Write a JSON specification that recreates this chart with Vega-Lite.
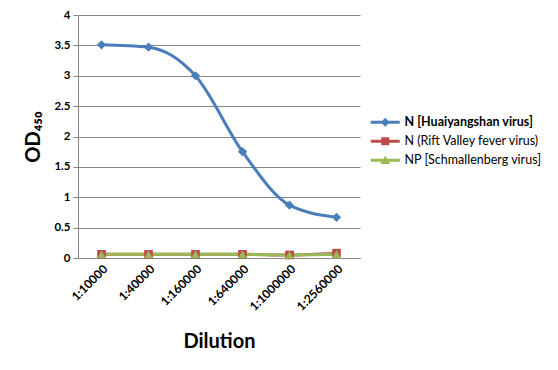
{
  "$schema": "https://vega.github.io/schema/vega-lite/v6.json",
  "width": 282,
  "height": 243,
  "autosize": "none",
  "padding": {"left": 78, "top": 15, "right": 198, "bottom": 112},
  "background": "white",
  "config": {
    "font": "Lato",
    "view": {"stroke": null},
    "axis": {"labelFont": "Lato", "titleFont": "Lato", "labelColor": "#000", "titleColor": "#000", "domainColor": "#868686", "gridColor": "#868686", "tickColor": "#868686"}
  },
  "data": {
    "values": [
      {"dilution": "1:10000", "series": "N [Huaiyangshan virus]", "od": 3.51},
      {"dilution": "1:40000", "series": "N [Huaiyangshan virus]", "od": 3.47},
      {"dilution": "1:160000", "series": "N [Huaiyangshan virus]", "od": 3.0},
      {"dilution": "1:640000", "series": "N [Huaiyangshan virus]", "od": 1.75},
      {"dilution": "1:1000000", "series": "N [Huaiyangshan virus]", "od": 0.87},
      {"dilution": "1:2560000", "series": "N [Huaiyangshan virus]", "od": 0.67},
      {"dilution": "1:10000", "series": "N (Rift Valley fever virus)", "od": 0.06},
      {"dilution": "1:40000", "series": "N (Rift Valley fever virus)", "od": 0.06},
      {"dilution": "1:160000", "series": "N (Rift Valley fever virus)", "od": 0.06},
      {"dilution": "1:640000", "series": "N (Rift Valley fever virus)", "od": 0.06},
      {"dilution": "1:1000000", "series": "N (Rift Valley fever virus)", "od": 0.05},
      {"dilution": "1:2560000", "series": "N (Rift Valley fever virus)", "od": 0.08},
      {"dilution": "1:10000", "series": "NP [Schmallenberg virus]", "od": 0.06},
      {"dilution": "1:40000", "series": "NP [Schmallenberg virus]", "od": 0.06},
      {"dilution": "1:160000", "series": "NP [Schmallenberg virus]", "od": 0.06},
      {"dilution": "1:640000", "series": "NP [Schmallenberg virus]", "od": 0.06},
      {"dilution": "1:1000000", "series": "NP [Schmallenberg virus]", "od": 0.05},
      {"dilution": "1:2560000", "series": "NP [Schmallenberg virus]", "od": 0.06}
    ]
  },
  "encoding": {
    "x": {
      "field": "dilution", "type": "ordinal", "sort": null,
      "scale": {"type": "point", "padding": 0.5},
      "axis": {"title": "Dilution", "titleFontSize": 20, "titleFontWeight": "bold", "titlePadding": 19,
               "labelAngle": -45, "labelFontSize": 12, "labelFontWeight": "bold", "ticks": false, "domainWidth": 1, "labelPadding": 5}
    },
    "y": {
      "field": "od", "type": "quantitative",
      "scale": {"domain": [0, 4], "nice": false},
      "axis": {"title": "OD₄₅₀", "titleFontSize": 20, "titleFontWeight": "bold", "values": [0, 0.5, 1, 1.5, 2, 2.5, 3, 3.5, 4], "format": "~g",
               "labelFontSize": 11.5, "labelFontWeight": "bold", "tickSize": 5, "labelPadding": 3, "grid": true,
               "titleX": -35, "titleY": 121.5, "titleAlign": "center"}
    },
    "color": {
      "field": "series", "type": "nominal", "sort": null,
      "scale": {"domain": ["N [Huaiyangshan virus]", "N (Rift Valley fever virus)", "NP [Schmallenberg virus]"], "range": ["#4A7EBB", "#BE4B48", "#98B954"]},
      "legend": {
        "title": null, "orient": "none", "legendX": 301, "legendY": 101,
        "labelFontSize": 12.5, "labelFont": "Lato", "labelColor": "#000",
        "symbolSize": 100, "symbolStrokeWidth": 0, "labelOffset": 13, "rowPadding": 6, "symbolOpacity": 1,
        "encode": {
          "symbols": {"update": {
            "shape": {"signal": "datum.value === 'N [Huaiyangshan virus]' ? 'M-2.9,-0.3H2.9V0.3H-2.9Z M0,-0.9L0.9,0L0,0.9L-0.9,0Z' : datum.value === 'N (Rift Valley fever virus)' ? 'M-2.9,-0.3H2.9V0.3H-2.9Z M-0.8,-0.8H0.8V0.8H-0.8Z' : 'M-2.9,-0.3H2.9V0.3H-2.9Z M0,-0.9L1,0.75H-1Z'"},
            "fill": {"signal": "datum.value === 'N [Huaiyangshan virus]' ? '#4A7EBB' : datum.value === 'N (Rift Valley fever virus)' ? '#BE4B48' : '#98B954'"},
            "strokeWidth": {"value": 0}
          }},
          "labels": {"update": {
            "fontWeight": {"signal": "datum.value === 'N [Huaiyangshan virus]' ? 'bold' : 'normal'"}
          }}
        }
      }
    }
  },
  "layer": [
    {"mark": {"type": "line", "interpolate": "monotone", "strokeWidth": 3}},
    {
      "transform": [{"filter": "datum.series === 'N [Huaiyangshan virus]'"}],
      "mark": {"type": "point", "filled": true, "opacity": 1, "size": 85, "shape": "diamond"}
    },
    {
      "transform": [{"filter": "datum.series === 'N (Rift Valley fever virus)'"}],
      "mark": {"type": "point", "filled": true, "opacity": 1, "size": 75, "shape": "square"}
    },
    {
      "transform": [{"filter": "datum.series === 'NP [Schmallenberg virus]'"}],
      "mark": {"type": "point", "filled": true, "opacity": 1, "size": 80, "shape": "triangle-up"}
    }
  ]
}
